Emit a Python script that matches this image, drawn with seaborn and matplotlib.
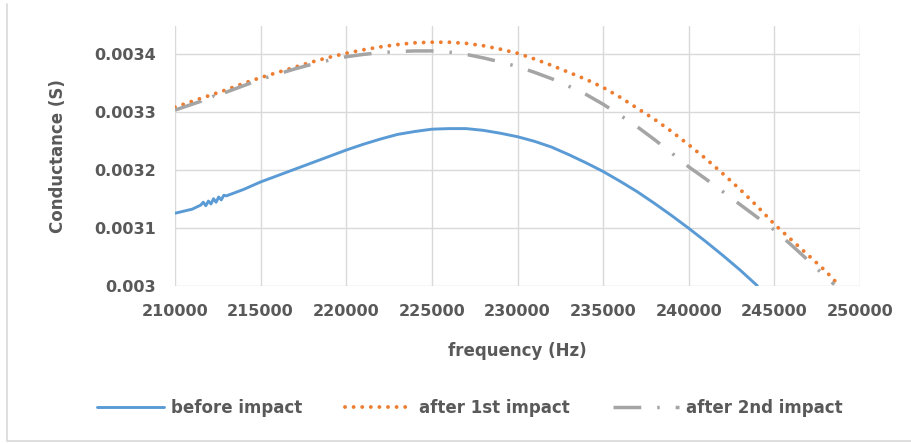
import matplotlib
matplotlib.use("Agg")
import matplotlib.pyplot as plt
from matplotlib.lines import Line2D
import seaborn as sns
import pandas as pd

# ---- data ----
freq_before = [210000, 211000, 211500, 211650, 211800, 211950, 212100, 212250, 212400,
               212550, 212700, 212850, 213000, 214000, 215000, 216000, 217000, 218000,
               219000, 220000, 221000, 222000, 223000, 224000, 225000, 226000, 227000,
               228000, 229000, 230000, 231000, 232000, 233000, 234000, 235000, 236000,
               237000, 238000, 239000, 240000, 241000, 242000, 243000, 244000]
g_before = [0.003125, 0.003132, 0.003139, 0.003144, 0.003138, 0.003146, 0.003141, 0.003150,
            0.003144, 0.003153, 0.003148, 0.003156, 0.003155, 0.003166, 0.003179, 0.003190,
            0.003201, 0.003212, 0.003223, 0.003234, 0.003244, 0.003253, 0.003261, 0.003266,
            0.003270, 0.003271, 0.003271, 0.003268, 0.003263, 0.003257, 0.003249, 0.003239,
            0.003226, 0.003212, 0.003197, 0.003180, 0.003162, 0.003142, 0.003121, 0.003099,
            0.003076, 0.003052, 0.003027, 0.003000]

freq_first = [210000, 211000, 212000, 213000, 214000, 215000, 216000, 217000, 218000, 219000,
              220000, 221000, 222000, 223000, 224000, 225000, 226000, 227000, 228000, 229000,
              230000, 231000, 232000, 233000, 234000, 235000, 236000, 237000, 238000, 239000,
              240000, 241000, 242000, 243000, 244000, 245000, 246000, 247000, 248000, 248800]
g_first = [0.003308, 0.003318, 0.003328, 0.003338, 0.003349, 0.003359, 0.003368, 0.003377,
           0.003386, 0.003394, 0.003401, 0.003407, 0.003412, 0.003416, 0.003419, 0.003420,
           0.003420, 0.003418, 0.003414, 0.003408, 0.003401, 0.003391, 0.003380, 0.003368,
           0.003356, 0.003342, 0.003325, 0.003306, 0.003287, 0.003266, 0.003243, 0.003219,
           0.003193, 0.003166, 0.003137, 0.003106, 0.003079, 0.003052, 0.003025, 0.003000]

freq_second = [210000, 211000, 211500, 211750, 212000, 212250, 212600, 212800, 213000, 214000,
               215000, 216000, 217000, 218000, 219000, 220000, 221000, 222000, 223000, 224000,
               225000, 226000, 227000, 228000, 229000, 230000, 231000, 232000, 233000, 234000,
               235000, 236000, 237000, 238000, 239000, 240000, 241000, 242000, 243000, 244000,
               245000, 246000, 247000, 248000, 248500]
g_second = [0.003303, 0.003313, 0.003318, 0.003328, 0.003322, 0.003327, 0.003320, 0.003332,
            0.003334, 0.003345, 0.003356, 0.003365, 0.003374, 0.003382, 0.003389, 0.003395,
            0.003399, 0.003402, 0.003404, 0.003405, 0.003405, 0.003403, 0.003399, 0.003393,
            0.003386, 0.003378, 0.003368, 0.003357, 0.003344, 0.003330, 0.003313, 0.003294,
            0.003274, 0.003252, 0.003229, 0.003205, 0.003184, 0.003162, 0.003140, 0.003118,
            0.003096, 0.003070, 0.003043, 0.003015, 0.003002]

series_names = ["before impact", "after 1st impact", "after 2nd impact"]
x_ticks = [210000, 215000, 220000, 225000, 230000, 235000, 240000, 245000, 250000]
y_ticks = [0.003, 0.0031, 0.0032, 0.0033, 0.0034]
y_tick_labels = ["0.003", "0.0031", "0.0032", "0.0033", "0.0034"]

# ---- style ----
sns.set_theme(style="white")
plt.rcParams["font.family"] = ["DejaVu Sans"]
TXT = "#595959"
GRID = "#d9d9d9"

fig = plt.figure(figsize=(9.12, 4.43), dpi=100)
ax = fig.add_axes([175 / 912, 1 - 285.7 / 443, (860 - 175) / 912, (285.7 - 26) / 443])

df_b = pd.DataFrame({"f": freq_before, "g": g_before})
df_1 = pd.DataFrame({"f": freq_first, "g": g_first})
df_2 = pd.DataFrame({"f": freq_second, "g": g_second})

sns.lineplot(data=df_b, x="f", y="g", ax=ax, color="#5B9BD5", linewidth=2.1,
             label=series_names[0], sort=False, estimator=None)
sns.lineplot(data=df_1, x="f", y="g", ax=ax, color="#ED7D31", linewidth=2.8,
             label=series_names[1], sort=False, estimator=None)
sns.lineplot(data=df_2, x="f", y="g", ax=ax, color="#A5A5A5", linewidth=2.5,
             label=series_names[2], sort=False, estimator=None)

lines = ax.get_lines()
lines[1].set_linestyle((0, (0.01, 2.2)))
lines[1].set_dash_capstyle("round")
lines[2].set_linestyle((0, (8.0, 4.6, 0.7, 4.6)))
lines[2].set_dash_capstyle("butt")

ax.set_xlim(210000, 250000)
ax.set_ylim(0.003, 0.003448)
ax.set_xticks(x_ticks)
ax.set_xticklabels([str(v) for v in x_ticks])
ax.set_yticks(y_ticks)
ax.set_yticklabels(y_tick_labels)
ax.grid(True, color=GRID, linewidth=1.0)
ax.set_axisbelow(True)
for s in ax.spines.values():
    s.set_visible(False)
ax.tick_params(axis="both", length=0, colors=TXT, labelsize=11.5)
ax.tick_params(axis="x", pad=13)
ax.tick_params(axis="y", pad=14)
for t in ax.get_xticklabels() + ax.get_yticklabels():
    t.set_fontweight("bold")

ax.set_xlabel("frequency (Hz)", fontsize=12, fontweight="bold", color=TXT, labelpad=17)
ax.set_ylabel("Conductance (S)", fontsize=12, fontweight="bold", color=TXT, labelpad=19)

leg = ax.legend(loc="center", bbox_to_anchor=(470 / 912, 1 - 408 / 443),
                bbox_transform=fig.transFigure, ncol=3, frameon=False,
                handlelength=4.0, handletextpad=0.4, columnspacing=2.6,
                prop={"size": 12, "weight": "bold"})
for t in leg.get_texts():
    t.set_color(TXT)

# figure frame (left and bottom edges visible in reference)
fig.add_artist(Line2D([7 / 912, 7 / 912], [1 - 4 / 443, 1 - 441 / 443],
                      transform=fig.transFigure, color=GRID, linewidth=1.2))
fig.add_artist(Line2D([7 / 912, 1.0], [1 - 441 / 443, 1 - 441 / 443],
                      transform=fig.transFigure, color=GRID, linewidth=1.2))

fig.savefig("out.png", dpi=100, facecolor="white")
